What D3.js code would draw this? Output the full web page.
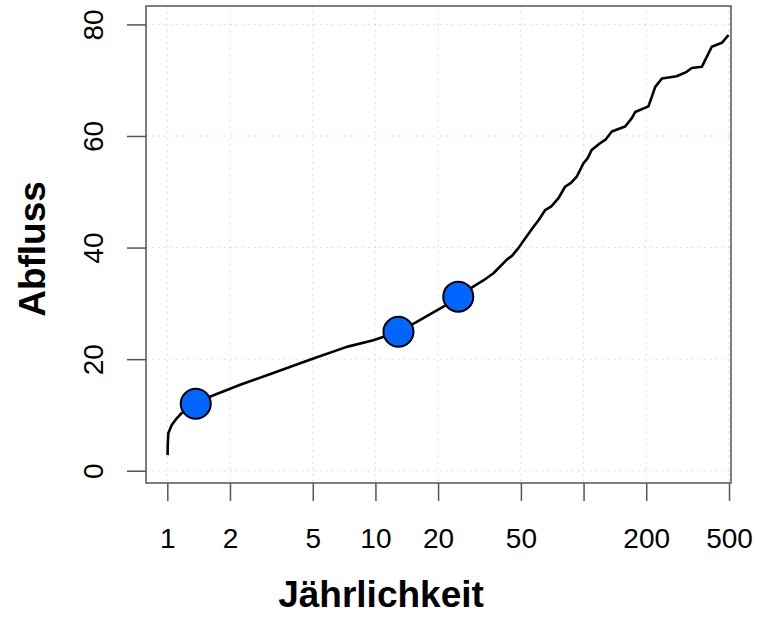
<!DOCTYPE html>
<html>
<head>
<meta charset="utf-8">
<script src="https://cdn.jsdelivr.net/npm/d3@7"></script>
<style>
  body { margin: 0; background: #fff; }
  svg { display: block; font-family: "Liberation Sans", Arial, sans-serif; }
</style>
</head>
<body>
<script>

// --------------------------------------------------
// Data
// --------------------------------------------------

// empirical curve: return period (years) vs discharge
var returnPeriod = [1.003, 1.005, 1.011, 1.05, 1.11, 1.17, 1.37, 1.61, 2.24, 3.23, 5.03, 7.28, 9.77,
    12.9, 15.8, 21.2, 25.0, 29.5, 33.0, 36.9, 42.7, 45.5, 48.6, 53.0, 57.4, 61.0, 65.3, 70.0, 75.6,
    81.5, 87.0, 92.7, 99.8, 104.5, 109.4, 120, 128, 136.7, 158.4, 170.6, 177, 205, 221, 238, 280,
    313, 331, 370, 413, 462, 497];
var discharge = [2.8, 4.6, 6.7, 8.2, 9.4, 10.3, 12.1, 13.3, 15.4, 17.5, 20.1, 22.2, 23.4,
    24.9, 26.7, 29.4, 31.2, 33.0, 34.1, 35.4, 37.8, 38.6, 39.9, 41.9, 43.7, 45.0, 46.7, 47.4, 48.8,
    50.9, 51.6, 52.7, 55.1, 56.0, 57.5, 58.7, 59.4, 60.8, 61.7, 63.2, 64.3, 65.3, 68.8, 70.3, 70.7,
    71.5, 72.2, 72.4, 76.0, 76.7, 78.1];

// highlighted points
var pointPeriod = [1.37, 12.9, 25.0];
var pointDischarge = [12.0, 24.9, 31.2];

// axes
var xTicks = [1, 2, 5, 10, 20, 50, 100, 200, 500];
var xTickLabels = ['1', '2', '5', '10', '20', '50', '', '200', '500'];
var yTicks = [0, 20, 40, 60, 80];

// --------------------------------------------------
// Chart
// --------------------------------------------------

var svg = d3.select('body').append('svg')
    .attr('width', 757)
    .attr('height', 620);

var box = { left: 146, right: 731, top: 6, bottom: 483 };

var x = d3.scaleLog()
    .domain([0.79, 511])
    .range([box.left, box.right]);

var y = d3.scaleLinear()
    .domain([-2.2, 83.3])
    .range([box.bottom, box.top]);

// grid
var grid = svg.append('g')
    .attr('stroke', '#d3d3d3')
    .attr('stroke-width', 1)
    .attr('stroke-dasharray', '1.5,4.5');

grid.selectAll('.vgrid')
    .data(xTicks)
    .enter().append('line')
    .attr('class', 'vgrid')
    .attr('x1', d => x(d)).attr('x2', d => x(d))
    .attr('y1', box.top).attr('y2', box.bottom);

grid.selectAll('.hgrid')
    .data(yTicks)
    .enter().append('line')
    .attr('class', 'hgrid')
    .attr('x1', box.left).attr('x2', box.right)
    .attr('y1', d => y(d)).attr('y2', d => y(d));

// axes
var xAxis = svg.append('g')
    .attr('transform', 'translate(0,' + box.bottom + ')')
    .call(d3.axisBottom(x)
        .tickValues(xTicks)
        .tickFormat((d, i) => xTickLabels[i])
        .tickSizeInner(18)
        .tickSizeOuter(0));

xAxis.select('.domain').remove();
xAxis.selectAll('line').attr('stroke', '#555').attr('stroke-width', 1.5);
xAxis.selectAll('text')
    .attr('y', 65)
    .attr('dy', 0)
    .attr('fill', '#000')
    .style('font-size', '28px');

var yAxis = svg.append('g')
    .attr('transform', 'translate(' + box.left + ',0)')
    .call(d3.axisLeft(y)
        .tickValues(yTicks)
        .tickSizeInner(19)
        .tickSizeOuter(0));

yAxis.select('.domain').remove();
yAxis.selectAll('line').attr('stroke', '#555').attr('stroke-width', 1.5);
yAxis.selectAll('text')
    .attr('x', 0)
    .attr('dy', 0)
    .attr('text-anchor', 'middle')
    .attr('transform', 'translate(-43,0) rotate(-90)')
    .attr('fill', '#000')
    .style('font-size', '28px');

// box
svg.append('rect')
    .attr('x', box.left)
    .attr('y', box.top)
    .attr('width', box.right - box.left)
    .attr('height', box.bottom - box.top)
    .attr('fill', 'none')
    .attr('stroke', '#555')
    .attr('stroke-width', 1.5);

// curve
var line = d3.line()
    .x((d, i) => x(returnPeriod[i]))
    .y(d => y(d));

svg.append('path')
    .datum(discharge)
    .attr('d', line)
    .attr('fill', 'none')
    .attr('stroke', '#000')
    .attr('stroke-width', 2.6)
    .attr('stroke-linejoin', 'round');

// points
svg.selectAll('.pt')
    .data(pointDischarge)
    .enter().append('circle')
    .attr('class', 'pt')
    .attr('cx', (d, i) => x(pointPeriod[i]))
    .attr('cy', d => y(d))
    .attr('r', 15)
    .attr('fill', '#0066ff')
    .attr('stroke', '#000')
    .attr('stroke-width', 2);

// axis titles
svg.append('text')
    .attr('x', 381)
    .attr('y', 607)
    .attr('text-anchor', 'middle')
    .style('font-size', '37px')
    .style('font-weight', 'bold')
    .text('Jährlichkeit');

svg.append('text')
    .attr('transform', 'translate(45,249) rotate(-90)')
    .attr('text-anchor', 'middle')
    .style('font-size', '37px')
    .style('font-weight', 'bold')
    .text('Abfluss');

</script>
</body>
</html>
